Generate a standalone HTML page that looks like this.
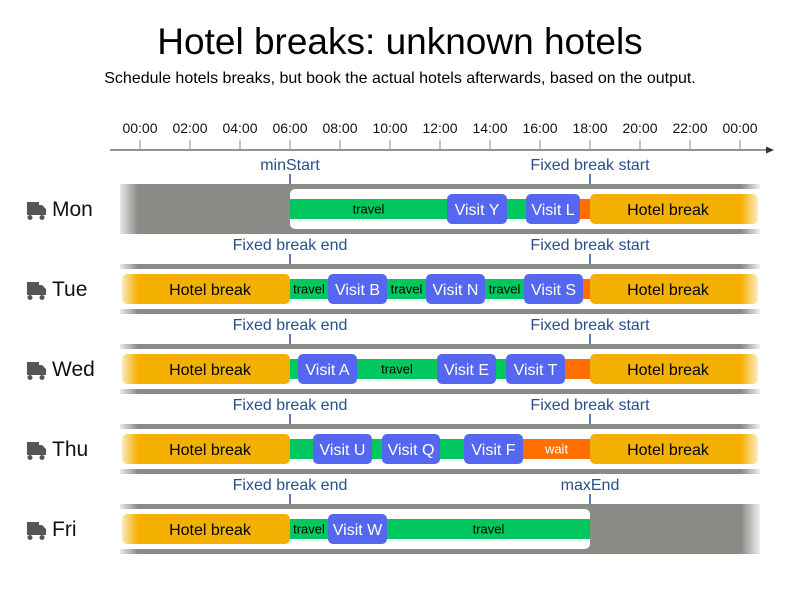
<!DOCTYPE html>
<html><head><meta charset="utf-8"><style>
body{margin:0;background:#fff;}
svg{display:block;font-family:"Liberation Sans",sans-serif;}
</style></head><body>
<svg id="chart" width="800" height="600" viewBox="0 0 800 600">
<defs>
<linearGradient id="fadeL" x1="0" x2="1" y1="0" y2="0"><stop offset="0" stop-color="#fff" stop-opacity="0.9"/><stop offset="1" stop-color="#fff" stop-opacity="0"/></linearGradient>
<linearGradient id="fadeR" x1="0" x2="1" y1="0" y2="0"><stop offset="0" stop-color="#fff" stop-opacity="0"/><stop offset="1" stop-color="#fff" stop-opacity="0.9"/></linearGradient>
</defs>
<text x="400" y="54" text-anchor="middle" font-size="37" fill="#000">Hotel breaks: unknown hotels</text>
<text x="400" y="83" text-anchor="middle" font-size="16" fill="#000">Schedule hotels breaks, but book the actual hotels afterwards, based on the output.</text>
<g id="axis"></g>
<g id="rows"></g>
</svg>
<script>
const tickHours = [0,2,4,6,8,10,12,14,16,18,20,22,24];
const tickLabels = ["00:00","02:00","04:00","06:00","08:00","10:00","12:00","14:00","16:00","18:00","20:00","22:00","00:00"];
const days = ["Mon","Tue","Wed","Thu","Fri"];
const windowStart = [6,-1,-1,-1,-1];
const windowEnd = [25,25,25,25,18];
const markerLeftLabel = ["minStart","Fixed break end","Fixed break end","Fixed break end","Fixed break end"];
const markerRightLabel = ["Fixed break start","Fixed break start","Fixed break start","Fixed break start","maxEnd"];
const markerLeftHour = [6,6,6,6,6];
const markerRightHour = [18,18,18,18,18];
const segMon = [["travel",6,12.28,"travel"],["visit",12.28,14.68,"Visit Y"],["travel",14.68,15.44,"travel"],["visit",15.44,17.6,"Visit L"],["wait",17.6,18,"wait"],["hotel",18,24.72,"Hotel break"]];
const segTue = [["hotel",-0.72,6,"Hotel break"],["travel",6,7.52,"travel"],["visit",7.52,9.88,"Visit B"],["travel",9.88,11.44,"travel"],["visit",11.44,13.8,"Visit N"],["travel",13.8,15.36,"travel"],["visit",15.36,17.72,"Visit S"],["wait",17.72,18,"wait"],["hotel",18,24.72,"Hotel break"]];
const segWed = [["hotel",-0.72,6,"Hotel break"],["travel",6,6.32,"travel"],["visit",6.32,8.68,"Visit A"],["travel",8.68,11.88,"travel"],["visit",11.88,14.24,"Visit E"],["travel",14.24,14.64,"travel"],["visit",14.64,17,"Visit T"],["wait",17,18,"wait"],["hotel",18,24.72,"Hotel break"]];
const segThu = [["hotel",-0.72,6,"Hotel break"],["travel",6,6.92,"travel"],["visit",6.92,9.28,"Visit U"],["travel",9.28,9.68,"travel"],["visit",9.68,12,"Visit Q"],["travel",12,12.96,"travel"],["visit",12.96,15.32,"Visit F"],["wait",15.32,18,"wait"],["hotel",18,24.72,"Hotel break"]];
const segFri = [["hotel",-0.72,6,"Hotel break"],["travel",6,7.52,"travel"],["visit",7.52,9.88,"Visit W"],["travel",9.88,18,"travel"]];
const segments = [segMon,segTue,segWed,segThu,segFri];

const NS="http://www.w3.org/2000/svg";
const x = h => 140 + h*25;
const rowTop = i => 184 + i*80;
function mk(tag, attrs, parent){const e=document.createElementNS(NS,tag);for(const k in attrs)e.setAttribute(k,attrs[k]);parent.appendChild(e);return e;}

const axis=document.getElementById('axis');
let al=mk('line',{x1:110,y1:150,x2:768,y2:150,stroke:'#555','stroke-width':1.2},axis);


let ah=mk('path',{d:'M774,150 L766,146.5 L766,153.5 Z',fill:'#333'},axis);


tickHours.forEach((h,i)=>{
  const t=mk('line',{x1:x(h),y1:140,x2:x(h),y2:150,stroke:'#888','stroke-width':1},axis);
  
  
  const l=mk('text',{x:x(h),y:133,'text-anchor':'middle','font-size':14,fill:'#111'},axis);
  l.textContent=tickLabels[i];
  
  
});

const rows=document.getElementById('rows');
const colors={travel:'#00c85f',visit:'#5566f0',wait:'#ff7000',hotel:'#f4b000'};
days.forEach((d,i)=>{
  const top=rowTop(i), cy=top+25;
  const g=mk('g',{},rows);
  
  
  const band=mk('rect',{x:120,y:top,width:640,height:50,fill:'#8a8b86'},g);
  
  
  const ws=Math.max(x(windowStart[i]),116), we=Math.min(x(windowEnd[i]),770);
  const win=mk('rect',{x:ws,y:top+5,width:we-ws,height:40,rx:5,fill:'#fff'},g);
  
  
  segments[i].forEach(s=>{
    const [type,a,b,label]=s;
    const x0=x(a), w=x(b)-x0;
    const tall = type==='visit'||type==='hotel';
    const r=mk('rect',{x:x0,y:tall?cy-15:cy-10,width:w,height:tall?30:20,rx:tall?5:0,fill:colors[type]},g);
    
    
    const minW = type==='travel'?35:(type==='wait'?30:20);
    if(w>=minW){
      let cx=x0+w/2;
      if(type==='hotel'){ const c0=Math.max(x0,130), c1=Math.min(x0+w,746); cx=(c0+c1)/2; }
      const fs=(type==='travel'||type==='wait')?13:16;
      const t=mk('text',{x:cx,y:cy+fs*0.36,'text-anchor':'middle','font-size':fs,fill:(type==='visit'||type==='wait')?'#fff':'#000'},g);
      t.textContent=label;
      
      
    }
  });
  const fl=mk('rect',{x:118,y:top,width:20,height:50,fill:'url(#fadeL)'},g);
  
  
  const fr=mk('rect',{x:741,y:top,width:20,height:50,fill:'url(#fadeR)'},g);
  
  
  [[markerLeftHour[i],markerLeftLabel[i]],[markerRightHour[i],markerRightLabel[i]]].forEach(m=>{
    const ml=mk('line',{x1:x(m[0]),y1:top-10,x2:x(m[0]),y2:top,stroke:'#2a4f8a','stroke-width':1.5},g);
    
    
    const mt=mk('text',{x:x(m[0]),y:top-14,'text-anchor':'middle','font-size':16,fill:'#2a4f8a'},g);
    mt.textContent=m[1];
    
    
  });
  const ic=mk('path',{d:`M27,${cy-7} h12 v3 h3 l4,4 v6 h-19 z M30,${cy+6} a2.5,2.5 0 1,0 0.01,0 M42,${cy+6} a2.5,2.5 0 1,0 0.01,0`,fill:'#555'},g);
  
  
  const dl=mk('text',{x:52,y:cy+7,'font-size':21,fill:'#111'},g);
  dl.textContent=d;
  
  
});
</script>
</body></html>
